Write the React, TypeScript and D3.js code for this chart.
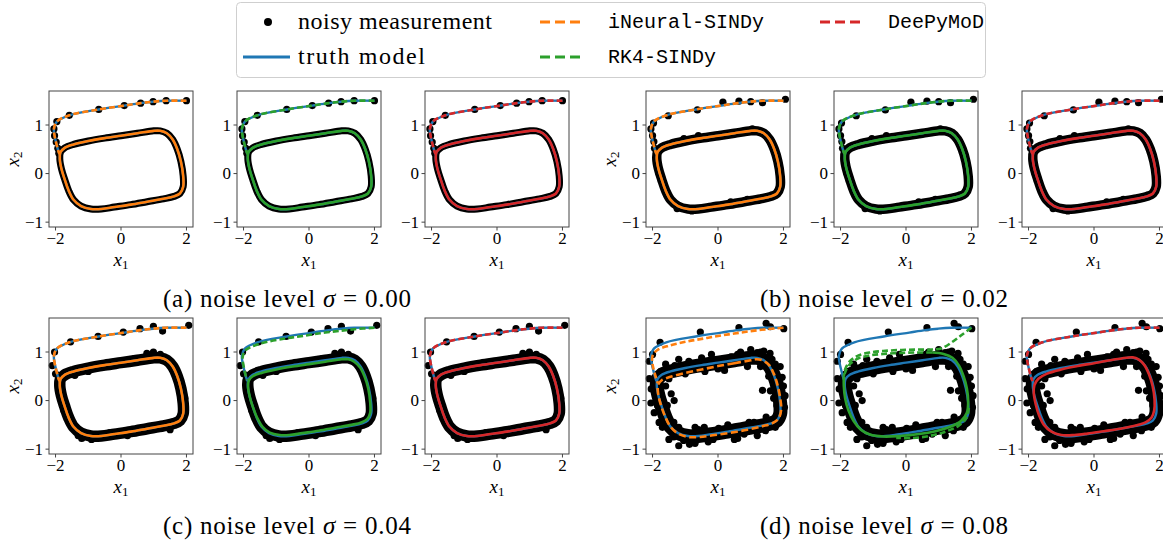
import React from "react";
import * as d3 from "d3";

type P = [number, number];

// ---- data ----
const captions = ["(a)", "(b)", "(c)", "(d)"];
const noiseLevels = ["0.00", "0.02", "0.04", "0.08"];
const methods = ["iNeural-SINDy", "RK4-SINDy", "DeePyMoD"];
const methodColors = ["#ff7f0e", "#2ca02c", "#d62728"];
const xTicks = [-2, 0, 2];
const yTicks = [-1, 0, 1];

// truth model: transient from (2, 1.5) into the limit cycle
const truthTransient: P[] = [
  [2.0, 1.5], [1.38, 1.5], [0.98, 1.48], [0.6, 1.45], [0.1, 1.4], [-0.68, 1.32],
  [-1.58, 1.2], [-1.96, 1.07], [-2.05, 0.92], [-2.03, 0.78], [-1.98, 0.63],
  [-1.93, 0.5], [-1.88, 0.4],
];
const truthCycle: P[] = [
  [1.0, 0.88], [0.5, 0.83], [0.0, 0.78], [-0.5, 0.73], [-1.0, 0.67], [-1.45, 0.6],
  [-1.72, 0.53], [-1.85, 0.44], [-1.87, 0.3], [-1.82, 0.1], [-1.72, -0.12],
  [-1.6, -0.35], [-1.45, -0.54], [-1.22, -0.67], [-0.92, -0.73], [-0.6, -0.73],
  [-0.2, -0.69], [0.3, -0.64], [0.8, -0.58], [1.3, -0.52], [1.62, -0.47],
  [1.8, -0.41], [1.9, -0.27], [1.9, -0.05], [1.83, 0.25], [1.72, 0.5],
  [1.58, 0.7], [1.4, 0.83], [1.2, 0.88],
];

// noisy measurements (points off the dense band)
const meas00: P[] = [
  [2.0, 1.5], [1.38, 1.5], [0.98, 1.48], [0.6, 1.45], [0.1, 1.4], [-0.68, 1.32],
  [-1.58, 1.2], [-1.96, 1.07], [-2.05, 0.92], [-2.03, 0.78], [-1.98, 0.65],
  [-1.93, 0.52], [-1.9, 0.42],
];
const meas02: P[] = [
  [2.06, 1.53], [1.36, 1.46], [1.0, 1.48], [0.64, 1.49], [0.15, 1.47], [-0.63, 1.31],
  [-1.52, 1.19], [-1.97, 1.04], [-2.05, 0.92], [-2.0, 0.78], [-1.96, 0.66],
  [-1.94, 0.52], [-1.04, 0.72], [0.39, -0.58], [1.05, 0.92], [-1.25, -0.72],
  [1.93, -0.2], [-1.8, 0.0], [-0.6, 0.78], [0.9, -0.53], [-0.8, -0.77],
];
const meas04: P[] = [
  [2.07, 1.55], [1.27, 1.43], [0.99, 1.53], [0.58, 1.48], [0.07, 1.41], [-0.7, 1.32],
  [-1.54, 1.21], [-2.03, 1.0], [-2.1, 0.72], [-2.0, 0.55], [0.99, 1.0], [0.79, 0.97],
  [-1.41, 0.52], [-1.31, -0.72], [1.91, -0.21], [1.86, 0.14], [-0.34, -0.66],
  [1.2, 0.95], [-0.9, -0.8], [-1.75, -0.2], [1.5, -0.6], [0.4, 0.86], [-1.0, 0.6],
  [0.2, -0.72], [1.95, 0.05], [-1.9, 0.2], [-1.2, -0.78], [1.7, 0.6],
];
const meas08: P[] = [
  [-2.1, 0.81], [-1.77, 1.2], [-0.54, 1.41], [0.64, 1.5], [1.47, 1.59], [2.01, 1.48],
  [-2.04, 0.24], [-1.32, 0.72], [-0.89, 0.81], [0.69, 1.0], [1.2, 0.99], [1.59, 0.97],
  [2.03, -0.14], [1.96, 0.48], [-1.2, -0.93], [-0.87, -0.9], [-0.42, -0.55],
  [0.02, -0.57], [0.8, -0.69], [-1.34, 0.0], [-1.43, 0.14], [1.47, -0.34], [1.36, 0.21],
  [1.0, 1.05], [1.3, 1.0], [0.4, 0.9], [-0.5, 0.88], [-1.6, 0.75], [-2.1, 0.45],
  [-1.95, -0.25], [-1.7, -0.55], [-1.5, -0.8], [-0.3, -0.85], [0.5, -0.8],
  [1.2, -0.72], [1.75, -0.55], [2.05, 0.1], [1.65, 0.85], [1.9, 0.7], [-1.0, 0.55],
  [0.2, 0.62], [1.1, -0.45], [-0.7, -0.55], [-1.55, -0.1], [1.6, 0.2], [-0.2, 0.95],
  [0.9, 0.7], [-1.75, 0.6], [-2.0, 0.95], [1.6, 1.52],
  [-1.85, -0.1], [-1.6, 0.3], [-1.65, -0.3], [-1.35, -0.45], [-1.2, -0.55],
  [-1.05, -0.82], [-0.7, -0.88], [-0.6, -0.6], [-0.15, -0.8], [0.3, -0.5],
  [0.6, -0.78], [1.45, -0.62], [1.8, -0.1], [1.7, 0.05], [2.0, 0.3], [1.55, 0.5],
  [1.75, 0.75], [1.4, 1.02], [0.6, 0.95], [0.0, 0.65], [-0.4, 0.6], [-1.2, 0.85],
  [-1.5, 0.45], [-1.9, 0.1], [-2.05, -0.05], [-1.8, -0.45], [-1.35, -0.75],
  [0.95, -0.45], [1.85, -0.45], [1.3, 0.7],
];
const measurements = [meas00, meas02, meas04, meas08];

// identified models that differ from the truth
const rk4Transient04: P[] = [
  [2.0, 1.5], [1.4, 1.47], [1.0, 1.44], [0.5, 1.4], [0.0, 1.35], [-0.7, 1.28],
  [-1.55, 1.16], [-1.95, 1.03], [-2.03, 0.88], [-2.0, 0.72], [-1.95, 0.56], [-1.9, 0.42],
];
const rk4Cycle04: P[] = [
  [1.0, 0.85], [0.5, 0.8], [0.0, 0.75], [-0.5, 0.7], [-1.0, 0.64], [-1.45, 0.57],
  [-1.72, 0.5], [-1.84, 0.41], [-1.86, 0.28], [-1.81, 0.08], [-1.71, -0.14],
  [-1.58, -0.36], [-1.42, -0.54], [-1.2, -0.66], [-0.9, -0.71], [-0.6, -0.71],
  [-0.2, -0.67], [0.3, -0.62], [0.8, -0.56], [1.3, -0.5], [1.6, -0.45], [1.78, -0.38],
  [1.87, -0.25], [1.87, -0.04], [1.81, 0.25], [1.7, 0.49], [1.56, 0.68], [1.38, 0.8],
  [1.2, 0.85],
];
const ineuralTransient08: P[] = [
  [2.0, 1.5], [1.5, 1.47], [1.0, 1.43], [0.5, 1.38], [0.0, 1.33], [-0.5, 1.27],
  [-1.0, 1.21], [-1.5, 1.13], [-1.85, 1.04], [-2.0, 0.92], [-2.0, 0.75],
  [-1.93, 0.55], [-1.84, 0.36],
];
const ineuralCycle08: P[] = [
  [1.0, 0.83], [0.5, 0.77], [0.0, 0.71], [-0.5, 0.64], [-1.0, 0.57], [-1.45, 0.49],
  [-1.72, 0.42], [-1.83, 0.32], [-1.83, 0.15], [-1.75, -0.08], [-1.62, -0.32],
  [-1.46, -0.53], [-1.22, -0.68], [-0.9, -0.75], [-0.55, -0.75], [-0.1, -0.71],
  [0.4, -0.66], [0.9, -0.6], [1.35, -0.53], [1.68, -0.46], [1.86, -0.36],
  [1.93, -0.18], [1.9, 0.05], [1.82, 0.32], [1.7, 0.56], [1.55, 0.74], [1.35, 0.83],
  [1.15, 0.85],
];
const rk4Transient08: P[] = [
  [2.0, 1.5], [1.7, 1.35], [1.4, 1.2], [1.1, 1.08], [0.8, 1.05], [0.3, 1.05],
  [-0.2, 1.04], [-0.7, 1.02], [-1.1, 0.99], [-1.45, 0.93], [-1.7, 0.82],
  [-1.85, 0.66], [-1.9, 0.5],
];
const rk4Loop08: P[] = [
  [-1.9, 0.5], [-1.9, 0.3], [-1.86, 0.05], [-1.76, -0.2], [-1.6, -0.42], [-1.38, -0.6],
  [-1.1, -0.7], [-0.7, -0.74], [-0.2, -0.73], [0.4, -0.69], [0.9, -0.63],
  [1.35, -0.54], [1.68, -0.42], [1.86, -0.25], [1.9, -0.02], [1.86, 0.25],
  [1.76, 0.5], [1.62, 0.72], [1.42, 0.88], [1.15, 0.96], [0.8, 0.99],
];
const rk4Top08: P[] = [
  [0.8, 0.99], [0.3, 0.99], [-0.2, 0.98], [-0.7, 0.96], [-1.1, 0.93], [-1.45, 0.87],
  [-1.7, 0.76], [-1.85, 0.6], [-1.9, 0.45],
];
const rk4Track08: P[] = [
  [1.92, -0.15], [1.85, -0.35], [1.6, -0.52], [1.2, -0.64], [0.7, -0.73],
  [0.2, -0.77], [-0.3, -0.77],
];
const deepCycle08: P[] = [
  [1.0, 0.88], [0.5, 0.83], [0.0, 0.77], [-0.5, 0.71], [-1.0, 0.64], [-1.45, 0.55],
  [-1.7, 0.45], [-1.82, 0.32], [-1.84, 0.15], [-1.78, -0.08], [-1.68, -0.3],
  [-1.53, -0.5], [-1.3, -0.64], [-1.0, -0.71], [-0.6, -0.71], [-0.2, -0.68],
  [0.3, -0.63], [0.8, -0.58], [1.3, -0.51], [1.6, -0.44], [1.76, -0.35],
  [1.84, -0.2], [1.85, 0.02], [1.79, 0.3], [1.68, 0.54], [1.54, 0.73],
  [1.36, 0.85], [1.18, 0.89],
];

type Fit = { dashed?: P[][]; solid?: P[][]; loops?: P[][]; dashedLoops?: P[][] };
const exact: Fit = { dashed: [truthTransient], loops: [truthCycle] };
const fits: Fit[][] = [
  [exact, exact, exact],
  [exact, exact, exact],
  [exact, { dashed: [rk4Transient04], loops: [rk4Cycle04] }, exact],
  [
    { dashed: [ineuralTransient08], dashedLoops: [ineuralCycle08] },
    { dashed: [rk4Transient08, rk4Top08, rk4Track08], solid: [rk4Loop08] },
    { dashed: [truthTransient], loops: [deepCycle08] },
  ],
];

// ---- layout ----
const W = 1163;
const H = 545;
const panelW = 144;
const panelH = 136;
const groupLeft = [49, 646];
const colStep = 188;
const rowTop = [91, 318];
const bandWidth = [7, 9.5, 11.5, 14];
const captionX = [287, 884];

const BLUE = "#1f77b4";
const SERIF = "'Liberation Serif', 'DejaVu Serif', serif";
const MONO = "'Liberation Mono', 'DejaVu Sans Mono', monospace";

const xScale = d3.scaleLinear().domain([-2.2, 2.2]).range([0, panelW]);
const yScale = d3.scaleLinear().domain([-1.1, 1.7]).range([panelH, 0]);

const openLine = d3
  .line<P>()
  .x((d) => xScale(d[0]))
  .y((d) => yScale(d[1]))
  .curve(d3.curveCatmullRom.alpha(0.5));
const closedLine = d3
  .line<P>()
  .x((d) => xScale(d[0]))
  .y((d) => yScale(d[1]))
  .curve(d3.curveCatmullRomClosed.alpha(0.5));

const fmt = (v: number) => (v < 0 ? "\u2212" + Math.abs(v) : String(v));

function AxisLabel({ x, y, sub, rotate }: { x: number; y: number; sub: string; rotate?: boolean }) {
  return (
    <text
      x={x}
      y={y}
      fontFamily={SERIF}
      fontSize={19}
      textAnchor="middle"
      transform={rotate ? `rotate(-90 ${x} ${y})` : undefined}
    >
      <tspan fontStyle="italic">x</tspan>
      <tspan fontSize={13} dy={3}>{sub}</tspan>
    </text>
  );
}

function Panel({ k, m, left, top }: { k: number; m: number; left: number; top: number }) {
  const fit = fits[k][m];
  const color = methodColors[m];
  return (
    <g transform={`translate(${left},${top})`}>
      {/* dense measurement band along the limit cycle */}
      <path d={closedLine(truthCycle) || ""} fill="none" stroke="#000" strokeWidth={bandWidth[k]} strokeLinejoin="round" />
      {measurements[k].map((p, i) => (
        <circle key={i} cx={xScale(p[0])} cy={yScale(p[1])} r={3.6} fill="#000" />
      ))}
      {/* truth */}
      <path d={openLine(truthTransient) || ""} fill="none" stroke={BLUE} strokeWidth={2.4} />
      <path d={closedLine(truthCycle) || ""} fill="none" stroke={BLUE} strokeWidth={2.4} />
      {/* identified model */}
      {(fit.solid || []).map((s, i) => (
        <path key={"s" + i} d={openLine(s) || ""} fill="none" stroke={color} strokeWidth={2.6} />
      ))}
      {(fit.loops || []).map((s, i) => (
        <path key={"l" + i} d={closedLine(s) || ""} fill="none" stroke={color} strokeWidth={2.6} />
      ))}
      {(fit.dashedLoops || []).map((s, i) => (
        <path key={"dl" + i} d={closedLine(s) || ""} fill="none" stroke={color} strokeWidth={2.6} strokeDasharray="7 3.5" />
      ))}
      {(fit.dashed || []).map((s, i) => (
        <path key={"d" + i} d={openLine(s) || ""} fill="none" stroke={color} strokeWidth={2.6} strokeDasharray="6 3" />
      ))}
      {/* frame */}
      <rect x={0} y={0} width={panelW} height={panelH} fill="none" stroke="#444" strokeWidth={1} />
      {xTicks.map((t) => (
        <g key={"x" + t}>
          <line x1={xScale(t)} x2={xScale(t)} y1={panelH} y2={panelH + 3.5} stroke="#444" />
          <text x={xScale(t)} y={panelH + 17} textAnchor="middle" fontFamily={SERIF} fontSize={17}>
            {fmt(t)}
          </text>
        </g>
      ))}
      {yTicks.map((t) => (
        <g key={"y" + t}>
          <line x1={-3.5} x2={0} y1={yScale(t)} y2={yScale(t)} stroke="#444" />
          <text x={-6} y={yScale(t) + 5.5} textAnchor="end" fontFamily={SERIF} fontSize={17}>
            {fmt(t)}
          </text>
        </g>
      ))}
      <AxisLabel x={panelW / 2} y={panelH + 39} sub="1" />
      {m === 0 && <AxisLabel x={-30} y={panelH / 2} sub="2" rotate />}
    </g>
  );
}

function Legend() {
  const rows = [22, 57];
  return (
    <g>
      <rect x={236.5} y={2.5} width={749} height={75} rx={4} fill="#fff" stroke="#cfcfcf" />
      <circle cx={268} cy={rows[0]} r={4} fill="#000" />
      <text x={298} y={rows[0] + 7} fontFamily={SERIF} fontSize={24} textLength={194} lengthAdjust="spacing">
        noisy measurement
      </text>
      <line x1={243} x2={290} y1={rows[1]} y2={rows[1]} stroke={BLUE} strokeWidth={3} />
      <text x={298} y={rows[1] + 7} fontFamily={SERIF} fontSize={24} textLength={127} lengthAdjust="spacing">
        truth model
      </text>
      {methods.map((name, i) => {
        const pos = [
          [540, rows[0]],
          [540, rows[1]],
          [820, rows[0]],
        ][i];
        return (
          <g key={name}>
            <line x1={pos[0]} x2={pos[0] + 40} y1={pos[1]} y2={pos[1]} stroke={methodColors[i]} strokeWidth={3} strokeDasharray="10 5" />
            <text x={pos[0] + 68} y={pos[1] + 6} fontFamily={MONO} fontSize={20}>{name}</text>
          </g>
        );
      })}
    </g>
  );
}

export default function App() {
  return (
    <svg width={W} height={H} style={{ position: "absolute", left: 0, top: 0, background: "#fff" }}>
      <Legend />
      {noiseLevels.map((nl, k) => {
        const row = k < 2 ? 0 : 1;
        const grp = k % 2;
        return (
          <g key={nl}>
            {methods.map((_, m) => (
              <Panel key={m} k={k} m={m} left={groupLeft[grp] + m * colStep} top={rowTop[row]} />
            ))}
            <text
              x={captionX[grp]}
              y={rowTop[row] + 216}
              textAnchor="middle"
              fontFamily={SERIF}
              fontSize={25}
              textLength={248}
              lengthAdjust="spacing"
            >
              {captions[k]} noise level <tspan fontStyle="italic">σ</tspan> = {nl}
            </text>
          </g>
        );
      })}
    </svg>
  );
}
